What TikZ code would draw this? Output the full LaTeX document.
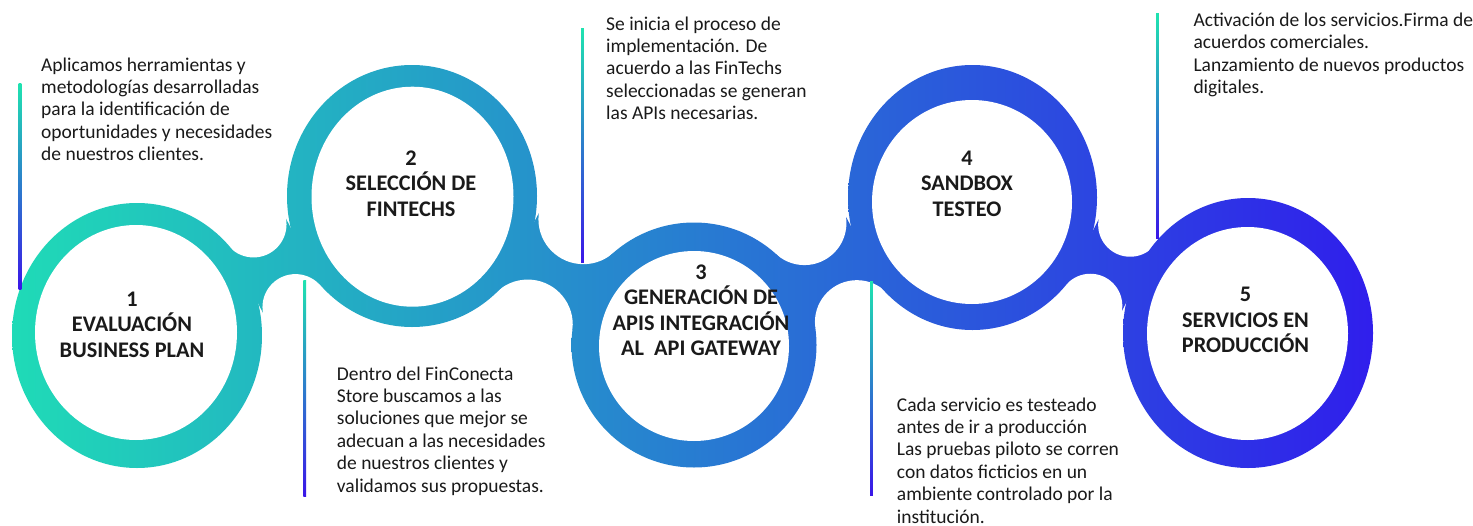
\documentclass[tikz,border=0pt]{standalone}
\usepackage{fontspec}
\setmainfont{Carlito}
\usetikzlibrary{calc}
\definecolor{cL}{HTML}{1FDDB6}
\definecolor{cM}{HTML}{2668DE}
\definecolor{cR}{HTML}{3110F0}
\definecolor{lnTop}{HTML}{1FE3B0}
\definecolor{lnBot}{HTML}{3A16E8}
\definecolor{ink}{HTML}{1A1A1A}
\tikzset{
 ringfill/.style={path picture={\shade[left color=cL, middle color=cM, right color=cR] (-5,-5) rectangle (1478,530);}},
 desc/.style={inner sep=0pt, anchor=north west, align=left, text=ink, font=\fontsize{19.5}{22.4}\selectfont},
 steplabel/.style={inner sep=0pt, anchor=north, align=center, text=ink, font=\bfseries\fontsize{22.3}{25.4}\selectfont},
 accent/.style={top color=lnTop, bottom color=lnBot},
}
% #1 a, #2 b, #3 Ra, #4 Rb, #5 fillet radius
\newcommand\mybridge[5]{%
  \path let \p1=($(#2)-(#1)$),
            \n1={veclen(\x1,\y1)/10},
            \n2={((\n1)^2+((#3+#5)/10)^2-((#4+#5)/10)^2)/(2*\n1)},
            \n3={sqrt(((#3+#5)/10)^2-(\n2)^2)}
        in coordinate (F1) at ($($(#1)!{10*\n2}!(#2)$)!{10*\n3}!90:(#2)$)
           coordinate (F2) at ($($(#1)!{10*\n2}!(#2)$)!{10*\n3}!-90:(#2)$);
  \path[ringfill] ($(#1)!#3pt!(F1)$) -- ($(#2)!#4pt!(F1)$) -- ($(#2)!#4pt!(F2)$) -- ($(#1)!#3pt!(F2)$) -- cycle;
  \fill[white] (F1) circle[radius=#5pt] (F2) circle[radius=#5pt];
}
\begin{document}
\begin{tikzpicture}[x=1pt,y=-1pt]
\useasboundingbox (0,0) rectangle (1473,525);
\fill[white] (0,0) rectangle (1473,525);
\coordinate (c1) at (137,335.5);
\coordinate (c2) at (412,196);
\coordinate (c3) at (694,345);
\coordinate (c4) at (972.5,197.5);
\coordinate (c5) at (1248,333);
\mybridge{c1}{c2}{128}{128}{33}
\mybridge{c2}{c3}{128}{122.5}{45}
\mybridge{c3}{c4}{122.5}{128}{42}
\mybridge{c4}{c5}{128}{128}{32}
\path[ringfill] (c1) ellipse[x radius=125pt, y radius=132.5pt];
\path[ringfill] (c2) ellipse[x radius=125pt, y radius=131pt];
\path[ringfill] (c3) ellipse[x radius=122.5pt, y radius=122.5pt];
\path[ringfill] (c4) ellipse[x radius=124.5pt, y radius=132.5pt];
\path[ringfill] (c5) ellipse[x radius=125pt, y radius=135pt];
\fill[white] (136,332.5) ellipse[x radius=101pt, y radius=107.5pt];
\fill[white] (412.5,196.7) ellipse[x radius=101pt, y radius=110pt];
\fill[white] (694,346) ellipse[x radius=95pt, y radius=95pt];
\fill[white] (972,202) ellipse[x radius=100pt, y radius=102pt];
\fill[white] (1247.5,333.5) ellipse[x radius=100.5pt, y radius=106.5pt];
% accent lines
\shade[accent] (18.6,83) rectangle (21.4,289);
\shade[accent] (303.4,280) rectangle (306.2,496);
\shade[accent] (581,28.3) rectangle (583.8,262);
\shade[accent] (870,281.7) rectangle (872.8,495);
\shade[accent] (1156,13.3) rectangle (1158.8,238.5);
% labels
\node[steplabel] (l1) at (132,291.6) {1\\EVALUACIÓN\\BUSINESS PLAN};
\node[steplabel] (l2) at (411,150.6) {2\\SELECCIÓN DE\\FINTECHS};
\node[steplabel] (l3) at (701,264.6) {3\\GENERACIÓN DE\\APIS INTEGRACIÓN\\AL\ \ API GATEWAY};
\node[steplabel] (l4) at (967,150.6) {4\\SANDBOX\\TESTEO};
\node[steplabel] (l5) at (1245.5,287.3) {5\\SERVICIOS EN\\PRODUCCIÓN};
% descriptions
\node[desc] (t1) at (41,57.3) {Aplicamos herramientas y\\metodologías desarrolladas\\para la identificación de\\oportunidades y necesidades\\de nuestros clientes.};
\node[desc] (t2) at (336.7,366.3) {Dentro del FinConecta\\Store buscamos a las\\soluciones que mejor se\\adecuan a las necesidades\\de nuestros clientes y\\validamos sus propuestas.};
\node[desc] (t3) at (606,16.3) {Se inicia el proceso de\\implementación. De\\acuerdo a las FinTechs\\seleccionadas se generan\\las APIs necesarias.};
\node[desc] (t4) at (896.7,397.3) {Cada servicio es testeado\\antes de ir a producción\\Las pruebas piloto se corren\\con datos ficticios en un\\ambiente controlado por la\\institución.};
\node[desc] (t5) at (1193.3,12.5) {Activación de los servicios.Firma de\\acuerdos comerciales.\\Lanzamiento de nuevos productos\\digitales.};
\end{tikzpicture}
\end{document}
